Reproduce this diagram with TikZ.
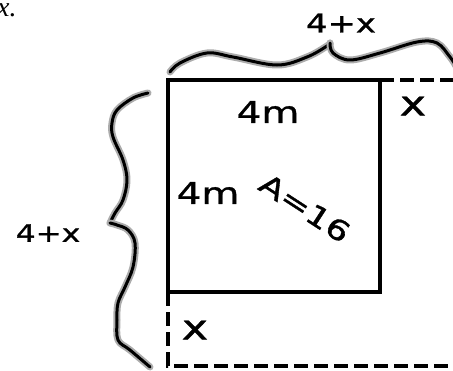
\documentclass[tikz,border=0pt]{standalone}
\usepackage{fontspec}
\newfontfamily\timesfont{Liberation Serif}
\newfontfamily\handfont[FakeStretch=1.3, FakeBold=1.2]{DejaVu Sans}
\usepackage{tikz}
\usetikzlibrary{positioning, calc}

\begin{document}
\begin{tikzpicture}[
        x=1pt, y=-1pt,
        sqline/.style={line width=4pt, line cap=rect},
        dashline/.style={line width=4pt, dash pattern=on 14pt off 6pt},
        brace/.style={draw=gray!65, line width=2pt, double=black, double distance=3pt, line cap=round, line join=round},
        hand/.style={font=\handfont\fontsize{26}{26}\selectfont, inner sep=0pt}
    ]
        \useasboundingbox (0,0) rectangle (453,370);

        % square and its extension
        \coordinate (tl) at (168,80);
        \coordinate (tr) at (380,80);
        \coordinate (br) at (380,292);
        \coordinate (bl) at (168,292);
        \coordinate (etr) at (455,80);
        \coordinate (ebl) at (168,366);
        \coordinate (ebr) at (455,366);
        \draw[sqline] (tl) -- (tr) -- (br) -- (bl) -- cycle;
        \draw[dashline] (tr) -- (etr);
        \draw[dashline] (bl) -- (ebl) -- (ebr);

        % hand drawn braces
        \draw[brace] plot[smooth, tension=0.6] coordinates {(170,72) (180,63) (207,53) (233,57) (277,65) (307,57) (327,46) (330,43)};
        \draw[brace] plot[smooth, tension=0.6] coordinates {(330,43) (333,53) (350,60) (380,53) (417,42) (437,43) (450,57) (456,66)};
        \draw[brace] plot[smooth, tension=0.6] coordinates {(148,93) (133,98) (117,110) (112,123) (113,137) (123,160) (127,180) (123,200) (115,213) (110,223)};
        \draw[brace] plot[smooth, tension=0.6] coordinates {(110,223) (117,225) (128,230) (135,243) (133,267) (125,287) (118,303) (117,320) (118,340) (130,350) (150,367)};

        % labels
        \node[anchor=base west, font=\timesfont\itshape\fontsize{28}{28}\selectfont, inner sep=0pt] (varx) at (-3,16) {x.};
        \node[hand] (topw) at (341,23) {4+x};
        \node[hand, font=\handfont\fontsize{24}{24}\selectfont] (leftw) at (48,233) {4+x};
        \node[hand, font=\handfont\fontsize{34}{34}\selectfont] (topx) at (413,106) {x};
        \node[hand, font=\handfont\fontsize{34}{34}\selectfont] (botx) at (195,330) {x};
        \node[hand, font=\handfont\fontsize{30}{30}\selectfont] (side1) at (268,112) {4m};
        \node[hand, font=\handfont\fontsize{30}{30}\selectfont] (side2) at (208,193) {4m};
        \node[hand, font=\handfont\fontsize{28}{28}\selectfont, rotate=-33] (area) at (305,208) {A=16};
    \end{tikzpicture}
\end{document}
